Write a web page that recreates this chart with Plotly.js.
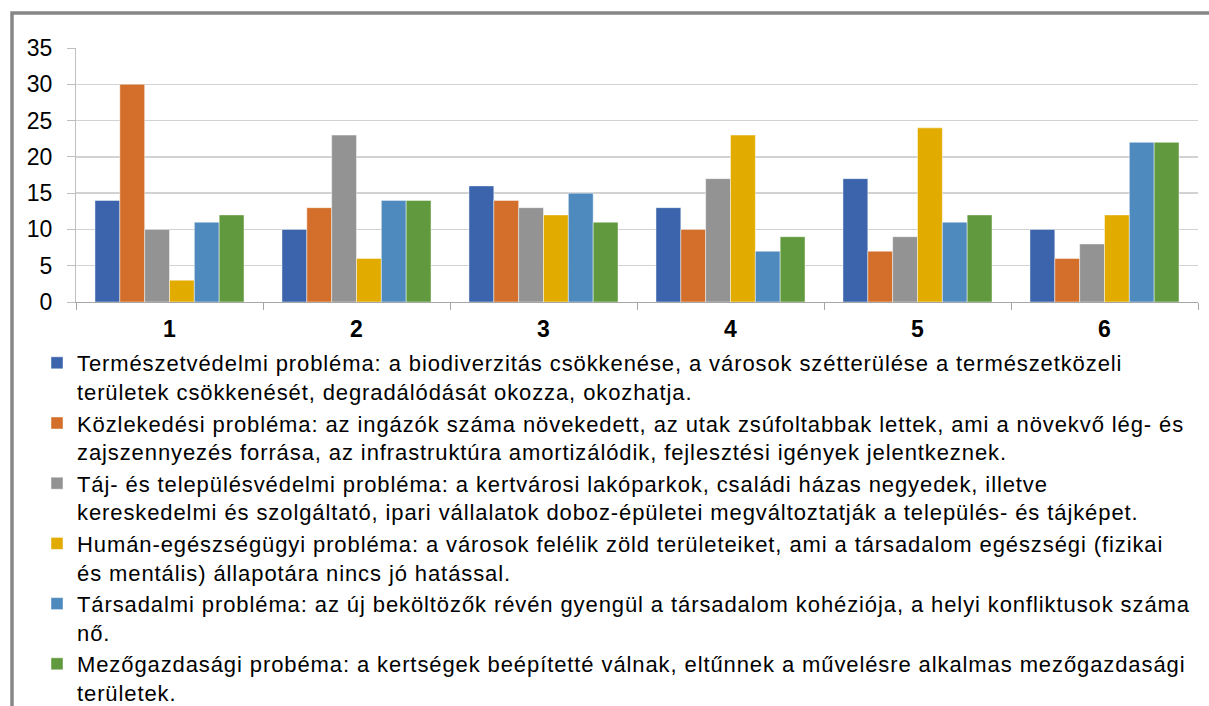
<!DOCTYPE html>
<html>
<head>
<meta charset="utf-8">
<script src="https://cdn.plot.ly/plotly-3.0.1.min.js"></script>
<style>
html,body{margin:0;padding:0;background:#fff;}
#chart{width:1209px;height:706px;}
.legendtext{letter-spacing:0.9px;}
</style>
</head>
<body>
<div id="chart"></div>
<script>
const categories = ["1", "2", "3", "4", "5", "6"];
const seriesNames = [
  "Természetvédelmi probléma: a biodiverzitás csökkenése, a városok szétterülése a természetközeli<br>területek csökkenését, degradálódását okozza, okozhatja.",
  "Közlekedési probléma: az ingázók száma növekedett, az utak zsúfoltabbak lettek, ami a növekvő lég- és<br>zajszennyezés forrása, az infrastruktúra amortizálódik, fejlesztési igények jelentkeznek.",
  "Táj- és településvédelmi probléma: a kertvárosi lakóparkok, családi házas negyedek, illetve<br>kereskedelmi és szolgáltató, ipari vállalatok doboz-épületei megváltoztatják a település- és tájképet.",
  "Humán-egészségügyi probléma: a városok felélik zöld területeiket, ami a társadalom egészségi (fizikai<br>és mentális) állapotára nincs jó hatással.",
  "Társadalmi probléma: az új beköltözők révén gyengül a társadalom kohéziója, a helyi konfliktusok száma<br>nő.",
  "Mezőgazdasági probéma: a kertségek beépítetté válnak, eltűnnek a művelésre alkalmas mezőgazdasági<br>területek."
];
const termeszetvedelmi = [14, 10, 16, 13, 17, 10];
const kozlekedesi = [30, 13, 14, 10, 7, 6];
const tajTelepules = [10, 23, 13, 17, 9, 8];
const humanEgeszseg = [3, 6, 12, 23, 24, 12];
const tarsadalmi = [11, 14, 15, 7, 11, 22];
const mezogazdasagi = [12, 14, 11, 9, 12, 22];
const seriesValues = [termeszetvedelmi, kozlekedesi, tajTelepules, humanEgeszseg, tarsadalmi, mezogazdasagi];
const colors = ["#3B64AD", "#D46F2B", "#939393", "#E2AB00", "#4F8ABE", "#619A3E"];
const yTicks = [0, 5, 10, 15, 20, 25, 30, 35];

const FONT = "Liberation Sans, Arial, sans-serif";
const W = 1209, H = 706;

const traces = seriesValues.map((vals, i) => ({
  type: "bar",
  x: categories,
  y: vals,
  name: seriesNames[i],
  legendgroup: "g" + i,
  marker: {color: colors[i], line: {color: "rgba(255,255,255,0.45)", width: 1}},
  hoverinfo: "x+y"
}));

const layout = {
  width: W,
  height: H,
  paper_bgcolor: "#ffffff",
  plot_bgcolor: "#ffffff",
  margin: {l: 76, r: 11, t: 48, b: 404, autoexpand: false},
  barmode: "group",
  bargap: 0.203,
  bargroupgap: 0,
  font: {family: FONT, color: "#000000"},
  showlegend: true,
  legend: {
    xref: "container",
    yref: "container",
    x: 37 / W,
    y: 1 - 342 / H,
    xanchor: "left",
    yanchor: "top",
    orientation: "v",
    valign: "top",
    tracegroupgap: 0,
    maxheight: 1000,
    font: {family: FONT, size: 22, color: "#000000"},
    bgcolor: "rgba(0,0,0,0)",
    borderwidth: 0
  },
  xaxis: {
    type: "category",
    showgrid: false,
    showline: true,
    linecolor: "#A6A6A6",
    linewidth: 1,
    ticks: "outside",
    tickson: "boundaries",
    ticklen: 7,
    tickcolor: "#A6A6A6",
    tickfont: {family: FONT, size: 23, color: "#000000", weight: "bold"},
    ticklabelstandoff: 6,
    fixedrange: true
  },
  yaxis: {
    range: [0, 35],
    tickvals: yTicks,
    ticktext: yTicks.map(String),
    showgrid: true,
    gridcolor: "#D2D2D2",
    gridwidth: 1.3,
    zeroline: false,
    showline: true,
    linecolor: "#BFBFBF",
    linewidth: 1,
    ticks: "outside",
    ticklen: 8,
    tickcolor: "#BFBFBF",
    tickfont: {family: FONT, size: 23, color: "#000000"},
    ticklabelstandoff: 10,
    fixedrange: true
  },
  shapes: [{
    type: "rect",
    xref: "paper", yref: "paper",
    xsizemode: "pixel", ysizemode: "pixel",
    xanchor: 0, yanchor: 1,
    x0: -64, x1: 1300,
    y0: 35, y1: -900,
    line: {color: "#878787", width: 3.5},
    fillcolor: "rgba(0,0,0,0)",
    layer: "below"
  }]
};

Plotly.newPlot("chart", traces, layout, {displayModeBar: false, staticPlot: true});
</script>
</body>
</html>
